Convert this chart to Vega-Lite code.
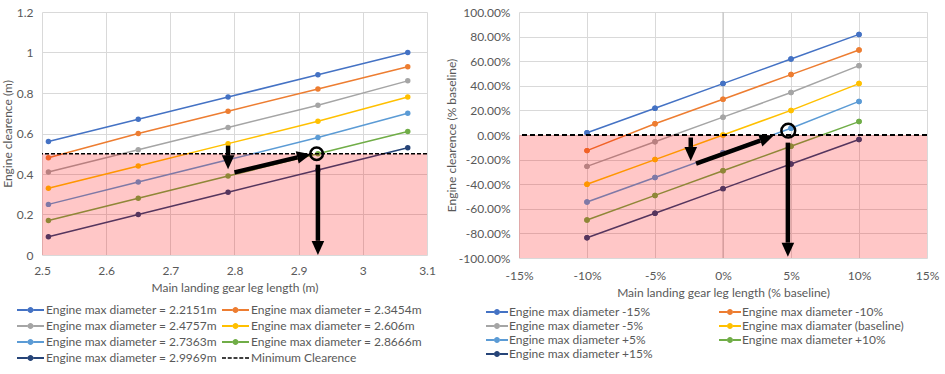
{
  "$schema": "https://vega.github.io/schema/vega-lite/v6.json",
  "background": "white",
  "padding": {"left": 1, "top": 6, "right": 5, "bottom": 5},
  "spacing": 9,
  "config": {
    "font": "Lato",
    "view": {"stroke": null},
    "axis": {"domain": false, "ticks": false, "gridColor": "#D9D9D9", "gridWidth": 1, "labelColor": "#595959", "labelFontSize": 12, "labelFont": "Lato", "titleFont": "Lato", "titleFontSize": 12, "titleFontWeight": "normal", "titleColor": "#595959", "labelFlush": false, "labelOverlap": false},
    "legend": {"labelFont": "Lato", "labelFontSize": 12, "labelColor": "#595959", "padding": 0, "symbolStrokeWidth": 0}
  },
  "resolve": {"scale": {"color": "independent", "stroke": "independent", "x": "independent", "y": "independent"}, "legend": {"color": "independent"}},
  "datasets": {
    "L": [
      {"s": "Engine max diameter = 2.2151m", "x": 2.51, "y": 0.56}, {"s": "Engine max diameter = 2.2151m", "x": 2.65, "y": 0.67}, {"s": "Engine max diameter = 2.2151m", "x": 2.79, "y": 0.78}, {"s": "Engine max diameter = 2.2151m", "x": 2.93, "y": 0.89}, {"s": "Engine max diameter = 2.2151m", "x": 3.07, "y": 1.0},
      {"s": "Engine max diameter = 2.3454m", "x": 2.51, "y": 0.48}, {"s": "Engine max diameter = 2.3454m", "x": 2.65, "y": 0.60}, {"s": "Engine max diameter = 2.3454m", "x": 2.79, "y": 0.71}, {"s": "Engine max diameter = 2.3454m", "x": 2.93, "y": 0.82}, {"s": "Engine max diameter = 2.3454m", "x": 3.07, "y": 0.93},
      {"s": "Engine max diameter = 2.4757m", "x": 2.51, "y": 0.41}, {"s": "Engine max diameter = 2.4757m", "x": 2.65, "y": 0.52}, {"s": "Engine max diameter = 2.4757m", "x": 2.79, "y": 0.63}, {"s": "Engine max diameter = 2.4757m", "x": 2.93, "y": 0.74}, {"s": "Engine max diameter = 2.4757m", "x": 3.07, "y": 0.86},
      {"s": "Engine max diameter = 2.606m", "x": 2.51, "y": 0.33}, {"s": "Engine max diameter = 2.606m", "x": 2.65, "y": 0.44}, {"s": "Engine max diameter = 2.606m", "x": 2.79, "y": 0.55}, {"s": "Engine max diameter = 2.606m", "x": 2.93, "y": 0.66}, {"s": "Engine max diameter = 2.606m", "x": 3.07, "y": 0.78},
      {"s": "Engine max diameter = 2.7363m", "x": 2.51, "y": 0.25}, {"s": "Engine max diameter = 2.7363m", "x": 2.65, "y": 0.36}, {"s": "Engine max diameter = 2.7363m", "x": 2.79, "y": 0.47}, {"s": "Engine max diameter = 2.7363m", "x": 2.93, "y": 0.58}, {"s": "Engine max diameter = 2.7363m", "x": 3.07, "y": 0.70},
      {"s": "Engine max diameter = 2.8666m", "x": 2.51, "y": 0.17}, {"s": "Engine max diameter = 2.8666m", "x": 2.65, "y": 0.28}, {"s": "Engine max diameter = 2.8666m", "x": 2.79, "y": 0.39}, {"s": "Engine max diameter = 2.8666m", "x": 2.93, "y": 0.50}, {"s": "Engine max diameter = 2.8666m", "x": 3.07, "y": 0.61},
      {"s": "Engine max diameter = 2.9969m", "x": 2.51, "y": 0.09}, {"s": "Engine max diameter = 2.9969m", "x": 2.65, "y": 0.20}, {"s": "Engine max diameter = 2.9969m", "x": 2.79, "y": 0.31}, {"s": "Engine max diameter = 2.9969m", "x": 2.93, "y": 0.42}, {"s": "Engine max diameter = 2.9969m", "x": 3.07, "y": 0.53}
    ],
    "R": [
      {"s": "Engine max diameter -15%", "x": -0.10, "y": 0.018}, {"s": "Engine max diameter -15%", "x": -0.05, "y": 0.218}, {"s": "Engine max diameter -15%", "x": 0, "y": 0.418}, {"s": "Engine max diameter -15%", "x": 0.05, "y": 0.618}, {"s": "Engine max diameter -15%", "x": 0.10, "y": 0.818},
      {"s": "Engine max diameter -10%", "x": -0.10, "y": -0.127}, {"s": "Engine max diameter -10%", "x": -0.05, "y": 0.091}, {"s": "Engine max diameter -10%", "x": 0, "y": 0.291}, {"s": "Engine max diameter -10%", "x": 0.05, "y": 0.491}, {"s": "Engine max diameter -10%", "x": 0.10, "y": 0.691},
      {"s": "Engine max diameter -5%", "x": -0.10, "y": -0.255}, {"s": "Engine max diameter -5%", "x": -0.05, "y": -0.055}, {"s": "Engine max diameter -5%", "x": 0, "y": 0.145}, {"s": "Engine max diameter -5%", "x": 0.05, "y": 0.345}, {"s": "Engine max diameter -5%", "x": 0.10, "y": 0.564},
      {"s": "Engine max diamater (baseline)", "x": -0.10, "y": -0.40}, {"s": "Engine max diamater (baseline)", "x": -0.05, "y": -0.20}, {"s": "Engine max diamater (baseline)", "x": 0, "y": 0.0}, {"s": "Engine max diamater (baseline)", "x": 0.05, "y": 0.20}, {"s": "Engine max diamater (baseline)", "x": 0.10, "y": 0.418},
      {"s": "Engine max diameter +5%", "x": -0.10, "y": -0.545}, {"s": "Engine max diameter +5%", "x": -0.05, "y": -0.345}, {"s": "Engine max diameter +5%", "x": 0, "y": -0.145}, {"s": "Engine max diameter +5%", "x": 0.05, "y": 0.055}, {"s": "Engine max diameter +5%", "x": 0.10, "y": 0.273},
      {"s": "Engine max diameter +10%", "x": -0.10, "y": -0.691}, {"s": "Engine max diameter +10%", "x": -0.05, "y": -0.491}, {"s": "Engine max diameter +10%", "x": 0, "y": -0.291}, {"s": "Engine max diameter +10%", "x": 0.05, "y": -0.091}, {"s": "Engine max diameter +10%", "x": 0.10, "y": 0.109},
      {"s": "Engine max diameter +15%", "x": -0.10, "y": -0.836}, {"s": "Engine max diameter +15%", "x": -0.05, "y": -0.636}, {"s": "Engine max diameter +15%", "x": 0, "y": -0.436}, {"s": "Engine max diameter +15%", "x": 0.05, "y": -0.236}, {"s": "Engine max diameter +15%", "x": 0.10, "y": -0.036}
    ],
    "Lband": [{"lo": 0, "hi": 0.5}],
    "Rband": [{"lo": -1, "hi": 0}],
    "Lmin": [{"y": 0.5}],
    "Rmin": [{"y": 0}],
    "Raxis": [{"x": 0}],
    "Lshaft": [{"x": 2.79, "y": 0.54, "x2": 2.79, "y2": 0.49}, {"x": 2.80, "y": 0.408, "x2": 2.898, "y2": 0.482}, {"x": 2.93, "y": 0.446, "x2": 2.93, "y2": 0.07}],
    "Lheadd": [{"x": 2.79, "y": 0.424}, {"x": 2.93, "y": 0.0}],
    "Lheadr": [{"x": 2.919, "y": 0.498}],
    "Lcirc": [{"x": 2.928, "y": 0.5}],
    "Rshaft": [{"x": -0.0237, "y": -0.0205, "x2": -0.0237, "y2": -0.097}, {"x": -0.0198, "y": -0.232, "x2": 0.0274, "y2": -0.045}, {"x": 0.0477, "y": -0.062, "x2": 0.0477, "y2": -0.875}],
    "Rheadd": [{"x": -0.0237, "y": -0.212}, {"x": 0.0477, "y": -0.99}],
    "Rheadr": [{"x": 0.0371, "y": -0.0066}],
    "Rcirc": [{"x": 0.048, "y": 0.035}]
  },
  "hconcat": [
    {
      "width": 385,
      "height": 243,
      "layer": [
        {
          "data": {"name": "L"},
          "mark": {"type": "line", "strokeWidth": 1.5},
          "encoding": {
            "x": {"field": "x", "type": "quantitative", "scale": {"domain": [2.5, 3.1], "nice": false, "zero": false}, "axis": {"values": [2.5, 2.55, 2.6, 2.65, 2.7, 2.75, 2.8, 2.85, 2.9, 2.95, 3, 3.05, 3.1], "format": "~g", "labelOverlap": false, "title": "Main landing gear leg length (m)", "labelPadding": 10, "titlePadding": 6}},
            "y": {"field": "y", "type": "quantitative", "scale": {"domain": [0, 1.2], "nice": false, "zero": false}, "axis": {"values": [0, 0.2, 0.4, 0.6, 0.8, 1, 1.2], "format": "~g", "labelOverlap": false, "title": "Engine clearence (m)", "labelPadding": 9, "titlePadding": 2}},
            "stroke": {"field": "s", "type": "nominal", "scale": {"domain": ["Engine max diameter = 2.2151m", "Engine max diameter = 2.3454m", "Engine max diameter = 2.4757m", "Engine max diameter = 2.606m", "Engine max diameter = 2.7363m", "Engine max diameter = 2.8666m", "Engine max diameter = 2.9969m"], "range": ["#4472C4", "#ED7D31", "#A5A5A5", "#FFC000", "#5B9BD5", "#70AD47", "#264478"]}, "legend": null}
          }
        },
        {
          "data": {"name": "L"},
          "mark": {"type": "point", "filled": true, "size": 30, "opacity": 1},
          "encoding": {
            "x": {"field": "x", "type": "quantitative", "scale": {"domain": [2.5, 3.1], "nice": false, "zero": false}},
            "y": {"field": "y", "type": "quantitative", "scale": {"domain": [0, 1.2], "nice": false, "zero": false}},
            "color": {"field": "s", "type": "nominal", "scale": {"domain": ["Engine max diameter = 2.2151m", "Engine max diameter = 2.4757m", "Engine max diameter = 2.7363m", "Engine max diameter = 2.9969m", "Engine max diameter = 2.3454m", "Engine max diameter = 2.606m", "Engine max diameter = 2.8666m", "Minimum Clearence"], "range": ["#4472C4", "#A5A5A5", "#5B9BD5", "#264478", "#ED7D31", "#FFC000", "#70AD47", "#000000"]},
              "legend": {"orient": "none", "legendX": -25, "legendY": 292, "columns": 2, "title": null, "symbolSize": 144, "labelOffset": 17, "labelLimit": 400, "rowPadding": 4, "columnPadding": 5,
                "symbolType": {"expr": "datum.value === 'Minimum Clearence' ? 'M-1,-0.14H-0.34V0.14H-1Z M-0.04,-0.14H0.62V0.14H-0.04Z M0.92,-0.14H1.58V0.14H0.92Z M1.88,-0.14H2.54V0.14H1.88Z M2.84,-0.14H3.5V0.14H2.84Z' : 'M-1,-0.17H0.75V0.17H-1Z M1.75,-0.17H3.5V0.17H1.75Z M0.75,0A0.5,0.5 0 1,1 1.75,0A0.5,0.5 0 1,1 0.75,0Z'"}
              }
            }
          }
        },
        {
          "data": {"name": "Lband"},
          "mark": {"type": "rect", "color": "#FF0000", "opacity": 0.22},
          "encoding": {
            "y": {"field": "lo", "type": "quantitative", "scale": {"domain": [0, 1.2], "nice": false, "zero": false}},
            "y2": {"field": "hi"}
          }
        },
        {
          "data": {"name": "Lmin"},
          "mark": {"type": "rule", "color": "#000000", "strokeWidth": 1.5, "strokeDash": [4, 2]},
          "encoding": {"y": {"field": "y", "type": "quantitative", "scale": {"domain": [0, 1.2], "nice": false, "zero": false}}}
        },
        {
          "data": {"name": "Lshaft"},
          "mark": {"type": "rule", "color": "#000000", "strokeWidth": 4.5},
          "encoding": {
            "x": {"field": "x", "type": "quantitative", "scale": {"domain": [2.5, 3.1], "nice": false, "zero": false}},
            "y": {"field": "y", "type": "quantitative", "scale": {"domain": [0, 1.2], "nice": false, "zero": false}},
            "x2": {"field": "x2"},
            "y2": {"field": "y2"}
          }
        },
        {
          "data": {"name": "Lheadd"},
          "mark": {"type": "point", "shape": "M-0.9,-2L0.9,-2L0,0Z", "filled": true, "size": 196, "color": "#000000", "opacity": 1},
          "encoding": {
            "x": {"field": "x", "type": "quantitative", "scale": {"domain": [2.5, 3.1], "nice": false, "zero": false}},
            "y": {"field": "y", "type": "quantitative", "scale": {"domain": [0, 1.2], "nice": false, "zero": false}}
          }
        },
        {
          "data": {"name": "Lheadr"},
          "mark": {"type": "point", "shape": "M-0.9,-2L0.9,-2L0,0Z", "filled": true, "size": 196, "color": "#000000", "opacity": 1, "angle": 256.5},
          "encoding": {
            "x": {"field": "x", "type": "quantitative", "scale": {"domain": [2.5, 3.1], "nice": false, "zero": false}},
            "y": {"field": "y", "type": "quantitative", "scale": {"domain": [0, 1.2], "nice": false, "zero": false}}
          }
        },
        {
          "data": {"name": "Lcirc"},
          "mark": {"type": "point", "shape": "circle", "filled": false, "size": 160, "color": "#000000", "strokeWidth": 2.5, "opacity": 1},
          "encoding": {
            "x": {"field": "x", "type": "quantitative", "scale": {"domain": [2.5, 3.1], "nice": false, "zero": false}},
            "y": {"field": "y", "type": "quantitative", "scale": {"domain": [0, 1.2], "nice": false, "zero": false}}
          }
        }
      ]
    },
    {
      "width": 408,
      "height": 246,
      "layer": [
        {
          "data": {"name": "R"},
          "mark": {"type": "point", "filled": true, "size": 30, "opacity": 1},
          "encoding": {
            "x": {"field": "x", "type": "quantitative", "scale": {"domain": [-0.15, 0.15], "nice": false, "zero": false}, "axis": {"values": [-0.15, -0.1, -0.05, 0, 0.05, 0.1, 0.15], "labelOverlap": false, "labelExpr": "replace(format(datum.value, '.0%'), '\u2212', '-')", "title": "Main landing gear leg length (% baseline)", "labelPadding": 12, "titlePadding": 6}},
            "y": {"field": "y", "type": "quantitative", "scale": {"domain": [-1, 1], "nice": false, "zero": false}, "axis": {"values": [-1, -0.8, -0.6, -0.4, -0.2, 0, 0.2, 0.4, 0.6, 0.8, 1], "labelOverlap": false, "labelExpr": "replace(format(datum.value, '.2%'), '\u2212', '-')", "title": "Engine clearence (% baseline)", "labelPadding": 9, "titlePadding": 0}},
            "color": {"field": "s", "type": "nominal", "scale": {"domain": ["Engine max diameter -15%", "Engine max diameter -5%", "Engine max diameter +5%", "Engine max diameter +15%", "Engine max diameter -10%", "Engine max diamater (baseline)", "Engine max diameter +10%"], "range": ["#4472C4", "#A5A5A5", "#5B9BD5", "#264478", "#ED7D31", "#FFC000", "#70AD47"]},
              "legend": {"orient": "none", "legendX": -33, "legendY": 294, "columns": 2, "title": null, "symbolSize": 144, "labelOffset": 11, "labelLimit": 400, "rowPadding": 2, "columnPadding": 66,
                "symbolType": {"expr": "'M-1,-0.17H0.33V0.17H-1Z M1.33,-0.17H2.67V0.17H1.33Z M0.33,0A0.5,0.5 0 1,1 1.33,0A0.5,0.5 0 1,1 0.33,0Z'"}}
            }
          }
        },
        {
          "data": {"name": "Raxis"},
          "mark": {"type": "rule", "color": "#BFBFBF", "strokeWidth": 1},
          "encoding": {
            "x": {"field": "x", "type": "quantitative", "scale": {"domain": [-0.15, 0.15], "nice": false, "zero": false}}
          }
        },
        {
          "data": {"name": "R"},
          "mark": {"type": "line", "strokeWidth": 1.5},
          "encoding": {
            "x": {"field": "x", "type": "quantitative", "scale": {"domain": [-0.15, 0.15], "nice": false, "zero": false}},
            "y": {"field": "y", "type": "quantitative", "scale": {"domain": [-1, 1], "nice": false, "zero": false}, "axis": {"values": [-1, -0.8, -0.6, -0.4, -0.2, 0, 0.2, 0.4, 0.6, 0.8, 1], "labelOverlap": false, "labelExpr": "replace(format(datum.value, '.2%'), '\u2212', '-')", "title": "Engine clearence (% baseline)", "labelPadding": 9, "titlePadding": 0}},
            "stroke": {"field": "s", "type": "nominal", "scale": {"domain": ["Engine max diameter -15%", "Engine max diameter -10%", "Engine max diameter -5%", "Engine max diamater (baseline)", "Engine max diameter +5%", "Engine max diameter +10%", "Engine max diameter +15%"], "range": ["#4472C4", "#ED7D31", "#A5A5A5", "#FFC000", "#5B9BD5", "#70AD47", "#264478"]}, "legend": null}
          }
        },
        {
          "data": {"name": "R"},
          "mark": {"type": "point", "filled": true, "size": 30, "opacity": 1},
          "encoding": {
            "x": {"field": "x", "type": "quantitative", "scale": {"domain": [-0.15, 0.15], "nice": false, "zero": false}},
            "y": {"field": "y", "type": "quantitative", "scale": {"domain": [-1, 1], "nice": false, "zero": false}, "axis": {"values": [-1, -0.8, -0.6, -0.4, -0.2, 0, 0.2, 0.4, 0.6, 0.8, 1], "labelOverlap": false, "labelExpr": "replace(format(datum.value, '.2%'), '\u2212', '-')", "title": "Engine clearence (% baseline)", "labelPadding": 9, "titlePadding": 0}},
            "color": {"field": "s", "type": "nominal"}
          }
        },
        {
          "data": {"name": "Rband"},
          "mark": {"type": "rect", "color": "#FF0000", "opacity": 0.22},
          "encoding": {
            "y": {"field": "lo", "type": "quantitative", "scale": {"domain": [-1, 1], "nice": false, "zero": false}, "axis": {"values": [-1, -0.8, -0.6, -0.4, -0.2, 0, 0.2, 0.4, 0.6, 0.8, 1], "labelOverlap": false, "labelExpr": "replace(format(datum.value, '.2%'), '\u2212', '-')", "title": "Engine clearence (% baseline)", "labelPadding": 9, "titlePadding": 0}},
            "y2": {"field": "hi"}
          }
        },
        {
          "data": {"name": "Rmin"},
          "mark": {"type": "rule", "color": "#000000", "strokeWidth": 2, "strokeDash": [5, 3]},
          "encoding": {"y": {"field": "y", "type": "quantitative", "scale": {"domain": [-1, 1], "nice": false, "zero": false}, "axis": {"values": [-1, -0.8, -0.6, -0.4, -0.2, 0, 0.2, 0.4, 0.6, 0.8, 1], "labelOverlap": false, "labelExpr": "replace(format(datum.value, '.2%'), '\u2212', '-')", "title": "Engine clearence (% baseline)", "labelPadding": 9, "titlePadding": 0}}}
        },
        {
          "data": {"name": "Rshaft"},
          "mark": {"type": "rule", "color": "#000000", "strokeWidth": 4.5},
          "encoding": {
            "x": {"field": "x", "type": "quantitative", "scale": {"domain": [-0.15, 0.15], "nice": false, "zero": false}},
            "y": {"field": "y", "type": "quantitative", "scale": {"domain": [-1, 1], "nice": false, "zero": false}, "axis": {"values": [-1, -0.8, -0.6, -0.4, -0.2, 0, 0.2, 0.4, 0.6, 0.8, 1], "labelOverlap": false, "labelExpr": "replace(format(datum.value, '.2%'), '\u2212', '-')", "title": "Engine clearence (% baseline)", "labelPadding": 9, "titlePadding": 0}},
            "x2": {"field": "x2"},
            "y2": {"field": "y2"}
          }
        },
        {
          "data": {"name": "Rheadd"},
          "mark": {"type": "point", "shape": "M-0.9,-2L0.9,-2L0,0Z", "filled": true, "size": 196, "color": "#000000", "opacity": 1},
          "encoding": {
            "x": {"field": "x", "type": "quantitative", "scale": {"domain": [-0.15, 0.15], "nice": false, "zero": false}},
            "y": {"field": "y", "type": "quantitative", "scale": {"domain": [-1, 1], "nice": false, "zero": false}, "axis": {"values": [-1, -0.8, -0.6, -0.4, -0.2, 0, 0.2, 0.4, 0.6, 0.8, 1], "labelOverlap": false, "labelExpr": "replace(format(datum.value, '.2%'), '\u2212', '-')", "title": "Engine clearence (% baseline)", "labelPadding": 9, "titlePadding": 0}}
          }
        },
        {
          "data": {"name": "Rheadr"},
          "mark": {"type": "point", "shape": "M-0.9,-2L0.9,-2L0,0Z", "filled": true, "size": 196, "color": "#000000", "opacity": 1, "angle": 250.5},
          "encoding": {
            "x": {"field": "x", "type": "quantitative", "scale": {"domain": [-0.15, 0.15], "nice": false, "zero": false}},
            "y": {"field": "y", "type": "quantitative", "scale": {"domain": [-1, 1], "nice": false, "zero": false}, "axis": {"values": [-1, -0.8, -0.6, -0.4, -0.2, 0, 0.2, 0.4, 0.6, 0.8, 1], "labelOverlap": false, "labelExpr": "replace(format(datum.value, '.2%'), '\u2212', '-')", "title": "Engine clearence (% baseline)", "labelPadding": 9, "titlePadding": 0}}
          }
        },
        {
          "data": {"name": "Rcirc"},
          "mark": {"type": "point", "shape": "circle", "filled": false, "size": 190, "color": "#000000", "strokeWidth": 2.5, "opacity": 1},
          "encoding": {
            "x": {"field": "x", "type": "quantitative", "scale": {"domain": [-0.15, 0.15], "nice": false, "zero": false}},
            "y": {"field": "y", "type": "quantitative", "scale": {"domain": [-1, 1], "nice": false, "zero": false}, "axis": {"values": [-1, -0.8, -0.6, -0.4, -0.2, 0, 0.2, 0.4, 0.6, 0.8, 1], "labelOverlap": false, "labelExpr": "replace(format(datum.value, '.2%'), '\u2212', '-')", "title": "Engine clearence (% baseline)", "labelPadding": 9, "titlePadding": 0}}
          }
        }
      ]
    }
  ]
}
